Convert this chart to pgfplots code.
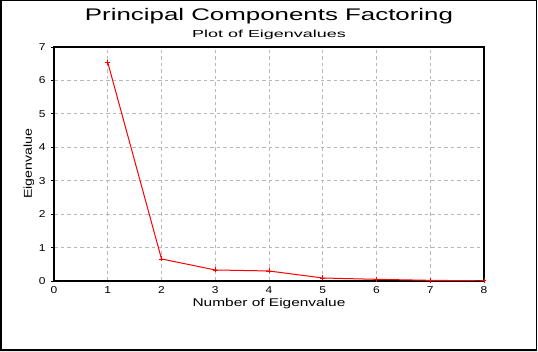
\documentclass[border=0pt]{standalone}
\usepackage{pgfplots}
\pgfplotsset{compat=1.18}
\usepackage{fontspec}
\setmainfont{Liberation Sans}
\begin{document}
\begin{tikzpicture}
\fill[black!8] (0,0) rectangle (538bp,352bp);
\fill[white] (0,1.5bp) rectangle (537.5bp,352bp);
\draw[line width=1.5bp] (0.75bp,1.75bp) rectangle (536.5bp,351.25bp);
\useasboundingbox (0,0) rectangle (538bp,352bp);
\begin{axis}[
  at={(54bp,71bp)}, anchor=south west,
  scale only axis, width=430bp, height=234bp,
  xmin=0, xmax=8, ymin=0, ymax=7,
  xtick={0,...,8}, ytick={0,...,7},
  xtick pos=bottom, ytick pos=left,
  tick align=outside, major tick length=3bp,
  xtick style={draw=none},
  ytick style={black, line width=0.8bp},
  axis line style={black, line width=1.5bp},
  grid=major,
  grid style={color=black!28, line width=0.8bp, dash pattern=on 3.5bp off 3bp},
  /pgf/number format/assume math mode=true,
  ticklabel style={font=\fontsize{10bp}{12bp}\selectfont, xscale=1.2},
  xticklabel style={yshift=1bp},
  yticklabel style={xshift=-1bp},
  xlabel={Number of Eigenvalue},
  xlabel style={font=\fontsize{11.2bp}{13bp}\selectfont, xscale=1.38, at={(axis description cs:0.5,-0.1098)}, anchor=base},
  ylabel={Eigenvalue},
  ylabel style={font=\fontsize{11.4bp}{13bp}\selectfont, xscale=1.24, at={(axis description cs:-0.0581,0.5)}, anchor=center},
]
\addplot[red, line width=1bp, mark=+, mark size=2.5bp, mark options={line width=0.8bp}]
coordinates {(1,6.54) (2,0.66) (3,0.33) (4,0.30) (5,0.09) (6,0.05) (7,0.02) (8,0.005)};
\end{axis}
\node[anchor=base, font=\fontsize{16.8bp}{20bp}\selectfont, xscale=1.54] at (269bp,331bp) {Principal Components Factoring};
\node[anchor=base, font=\fontsize{10.2bp}{12bp}\selectfont, xscale=1.76] at (269bp,314bp) {Plot of Eigenvalues};
\end{tikzpicture}
\end{document}
